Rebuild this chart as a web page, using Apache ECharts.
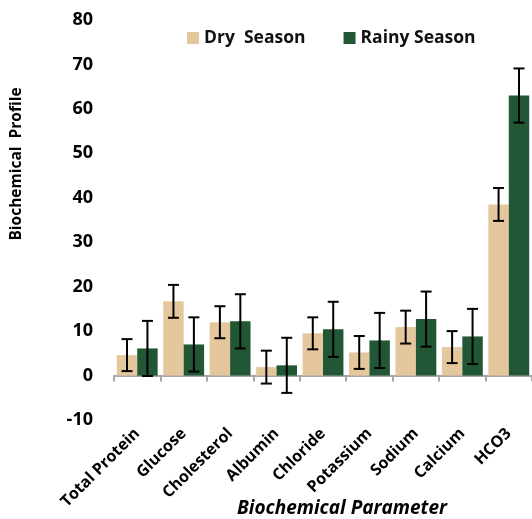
<!DOCTYPE html>
<html>
<head>
<meta charset="utf-8">
<script src="https://cdn.jsdelivr.net/npm/echarts@6/dist/echarts.min.js"></script>
<style>html,body{margin:0;padding:0;background:#fff;}#c{width:532px;height:519px;}</style>
</head>
<body>
<div id="c"></div>
<script>
const categories = ['Total Protein','Glucose','Cholesterol','Albumin','Chloride','Potassium','Sodium','Calcium','HCO3'];
const drySeason = [4.6, 16.7, 12.0, 1.9, 9.5, 5.2, 10.9, 6.4, 38.5];
const dryError = [3.6, 3.7, 3.6, 3.7, 3.6, 3.7, 3.7, 3.6, 3.7];
const rainySeason = [6.1, 7.0, 12.2, 2.3, 10.4, 7.9, 12.7, 8.8, 63.0];
const rainyError = [6.2, 6.1, 6.1, 6.2, 6.2, 6.2, 6.2, 6.2, 6.1];
const yTicks = {min: -10, max: 80, interval: 10};

const FONT = '"Open Sans", sans-serif';
const BAR_FRAC = 0.44;

function errData(vals, errs) {
  return vals.map((v, i) => [i, v - errs[i], v + errs[i]]);
}
function errRender(side) {
  return function (params, api) {
    const i = api.value(0);
    const lo = api.coord([i, api.value(1)]);
    const hi = api.coord([i, api.value(2)]);
    const cw = api.size([1, 0])[0];
    const x = lo[0] + side * cw * BAR_FRAC / 2;
    const cap = 5.5;
    const style = {stroke: '#000', lineWidth: 2};
    return {
      type: 'group',
      children: [
        {type: 'line', shape: {x1: x, y1: lo[1], x2: x, y2: hi[1]}, style},
        {type: 'line', shape: {x1: x - cap, y1: lo[1], x2: x + cap, y2: lo[1]}, style},
        {type: 'line', shape: {x1: x - cap, y1: hi[1], x2: x + cap, y2: hi[1]}, style}
      ]
    };
  };
}

const chart = echarts.init(document.getElementById('c'));
chart.setOption({
  animation: false,
  backgroundColor: '#fff',
  grid: {left: 114, right: -2, top: 20, bottom: 99, containLabel: false},
  legend: {
    left: 182, top: 24, itemWidth: 12, itemHeight: 12, itemGap: 38,
    icon: 'rect',
    textStyle: {fontFamily: FONT, fontWeight: 'bold', fontSize: 17.5, color: '#111'},
    data: ['Dry  Season', 'Rainy Season']
  },
  xAxis: {
    type: 'category',
    data: categories,
    axisLine: {onZero: true, lineStyle: {color: '#a6a6a6', width: 2}},
    axisTick: {show: true, length: 6, lineStyle: {color: '#a6a6a6', width: 2}},
    axisLabel: {interval: 0, rotate: 45, margin: 11, fontFamily: FONT, fontWeight: 'bold', fontSize: 16, color: '#000'}
  },
  yAxis: {
    type: 'value',
    min: yTicks.min, max: yTicks.max, interval: yTicks.interval,
    axisLine: {show: false}, axisTick: {show: false}, splitLine: {show: false},
    axisLabel: {margin: 21, fontFamily: FONT, fontWeight: 'bold', fontSize: 18, color: '#000'}
  },
  series: [
    {name: 'Dry  Season', type: 'bar', data: drySeason, barGap: '0%', barCategoryGap: '12%',
     itemStyle: {color: '#e5c79e'}},
    {name: 'Rainy Season', type: 'bar', data: rainySeason, barGap: '0%', barCategoryGap: '12%',
     itemStyle: {color: '#215735'}},
    {type: 'custom', data: errData(drySeason, dryError), renderItem: errRender(-1), z: 10,
     encode: {x: 0, y: [1, 2]}, silent: true},
    {type: 'custom', data: errData(rainySeason, rainyError), renderItem: errRender(1), z: 10,
     encode: {x: 0, y: [1, 2]}, silent: true}
  ],
  graphic: [
    {type: 'text', x: 17, y: 164, rotation: Math.PI / 2,
     style: {text: 'Biochemical  Profile', fontFamily: FONT, fontWeight: 'bold', fontSize: 15.5, fill: '#000', align: 'center', verticalAlign: 'middle'}},
    {type: 'text', x: 342, y: 509,
     style: {text: 'Biochemical Parameter', fontFamily: FONT, fontWeight: 'bold', fontStyle: 'italic', fontSize: 19, fill: '#000', align: 'center', verticalAlign: 'middle'}}
  ]
});
</script>
</body>
</html>
